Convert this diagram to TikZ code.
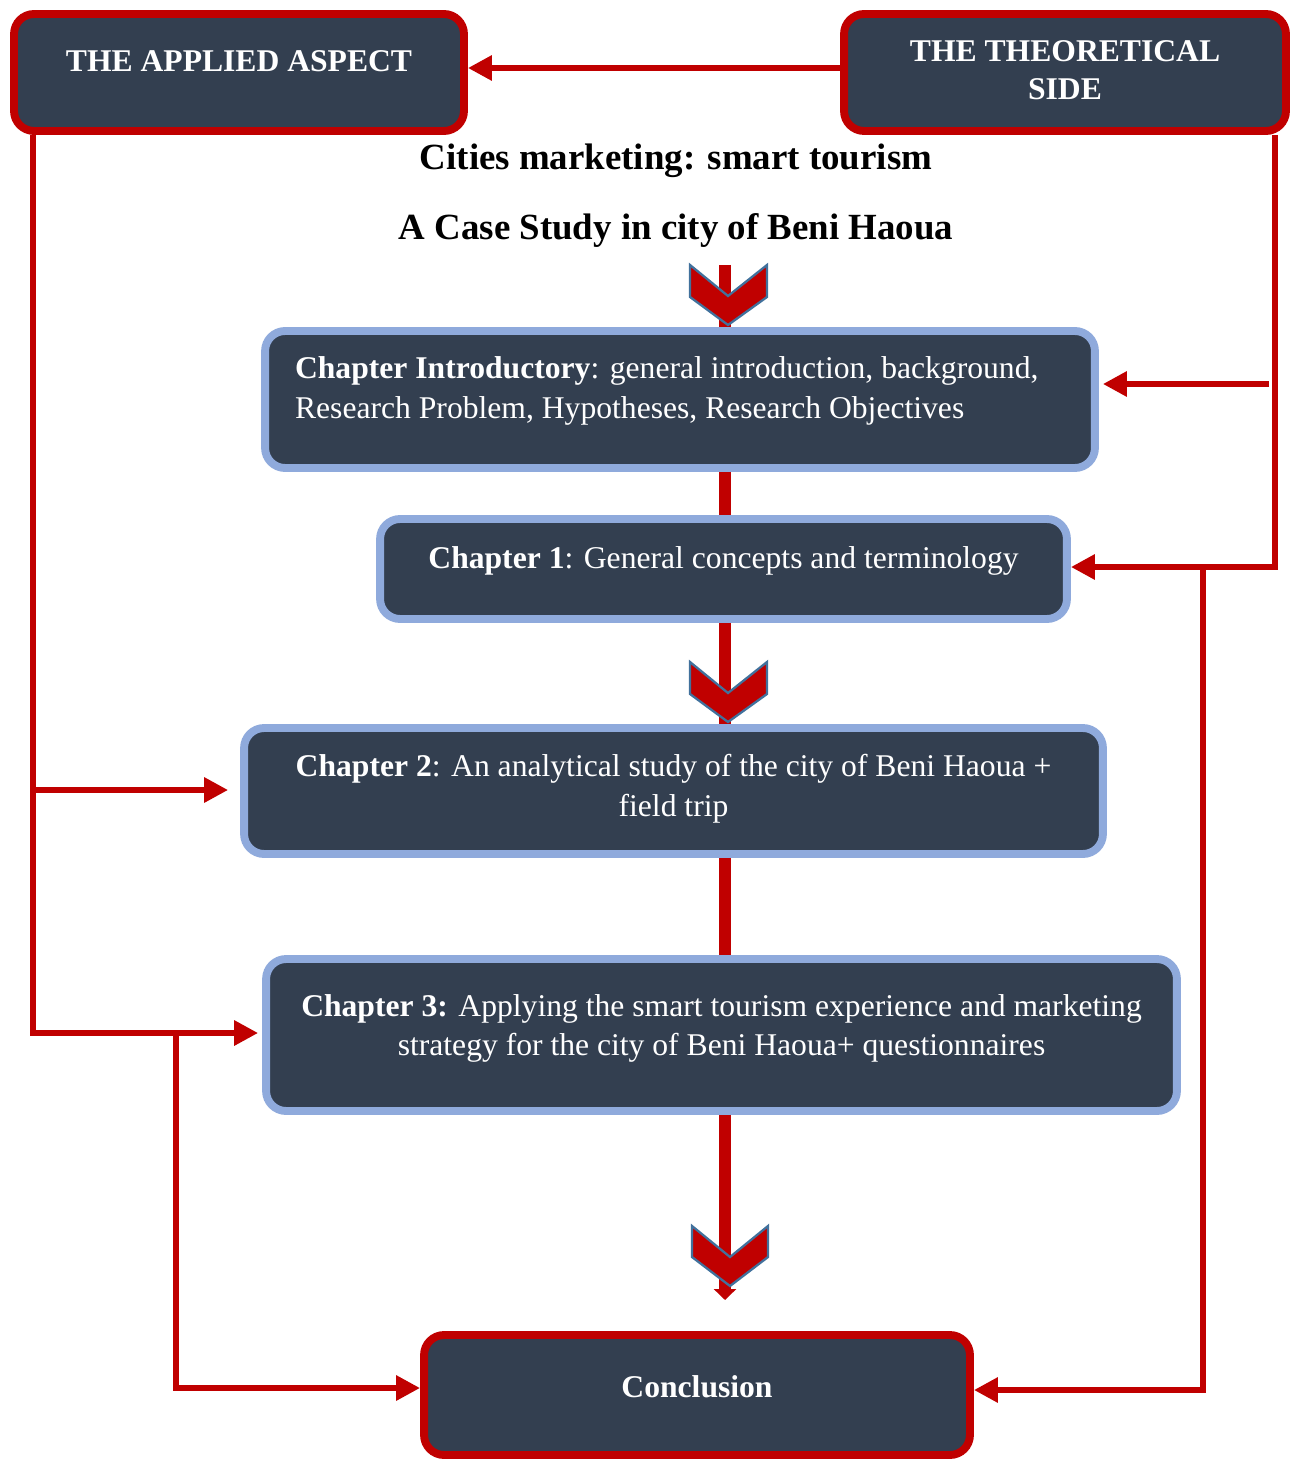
\documentclass[tikz,border=0pt]{standalone}
\usepackage{fontspec}
\setmainfont{Liberation Serif}
\usetikzlibrary{arrows.meta}
\definecolor{boxfill}{HTML}{333F50}
\definecolor{myred}{HTML}{C00000}
\definecolor{myblue}{HTML}{8FAADC}
\definecolor{chevedge}{HTML}{41719C}
\tikzset{
  box/.style={rectangle, rounded corners=0.4cm, fill=boxfill, line width=4.5pt,
    text=white, align=center, font=\fontsize{18}{22.7}\selectfont, text depth=0.45cm, inner sep=0pt},
  redbox/.style={box, draw=myred},
  bluebox/.style={box, draw=myblue},
  boldcaps/.style={font=\fontsize{18}{22}\selectfont\bfseries},
  conn/.style={draw=myred, line width=3.4pt, -{Triangle[length=0.48cm,width=0.48cm]}},
  spine/.style={draw=myred, line width=6.8pt},
  chev/.style={fill=myred, draw=chevedge, line width=1.3pt, line join=miter},
  titletxt/.style={font=\fontsize{21}{25}\selectfont\bfseries, text=black}
}
\begin{document}
\begin{tikzpicture}[x=0.02cm, y=-0.02cm]
\useasboundingbox (0,0) rectangle (1294,1459);

% boxes
\node[redbox, boldcaps, minimum width=9.0cm, minimum height=2.34cm] (applied) at (239,72.5) {THE APPLIED ASPECT};
\node[redbox, boldcaps, minimum width=8.84cm, minimum height=2.34cm, text depth=0.1cm] (theo) at (1065,72.5) {THE THEORETICAL\\SIDE};

\node[titletxt] (title1) at (676,161) {Cities marketing: smart tourism};
\node[titletxt] (title2) at (676,230) {A Case Study in city of Beni Haoua};

\node[bluebox, minimum width=16.6cm, minimum height=2.74cm, text depth=0pt, text height=0pt] (intro) at (680,399.5)
  {\makebox[15.4cm][l]{\raisebox{0.02cm}[0pt][0pt]{\begin{tabular}{@{}l@{}}\textbf{Chapter Introductory}: general introduction, background,\\Research Problem, Hypotheses, Research Objectives\end{tabular}}}};
\node[bluebox, minimum width=13.74cm, minimum height=2.0cm] (ch1) at (723.5,569)
  {\textbf{Chapter 1}: General concepts and terminology};
\node[bluebox, minimum width=17.18cm, minimum height=2.52cm, text depth=0.21cm] (ch2) at (673.5,791)
  {\textbf{Chapter 2}: An analytical study of the city of Beni Haoua +\\field trip};
\node[bluebox, minimum width=18.22cm, minimum height=3.04cm, text depth=0.4cm] (ch3) at (721.5,1035)
  {\textbf{Chapter 3:} Applying the smart tourism experience and marketing\\strategy for the city of Beni Haoua+ questionnaires};
\node[redbox, boldcaps, minimum width=10.92cm, minimum height=2.4cm, text depth=0.33cm] (concl) at (697,1395) {Conclusion};

% spine
\coordinate (s0) at (725,265);
\coordinate (s5) at (725,1300);
\draw[spine] (s0) -- (s0 |- intro.north);
\draw[spine] (intro.south -| s0) -- (ch1.north -| s0);
\draw[spine] (ch1.south -| s0) -- (ch2.north -| s0);
\draw[spine] (ch2.south -| s0) -- (ch3.north -| s0);
\draw[spine, -{Triangle[length=0.22cm,width=0.44cm]}] (ch3.south -| s0) -- (s5);

% chevrons
\draw[chev] (690,265) -- (728,296) -- (767,265) -- (767,297) -- (728,325) -- (690,297) -- cycle;
\draw[chev] (690,662) -- (728,693) -- (767,662) -- (767,694) -- (728,722) -- (690,694) -- cycle;
\draw[chev] (692,1226) -- (730,1257) -- (768,1226) -- (768,1257) -- (730,1286) -- (692,1257) -- cycle;

% top connector
\draw[conn] (theo.west |- 0,68) -- (applied.east |- 0,68);

% right side
\coordinate (r1) at (1275,567);
\coordinate (ri) at (1269,384);
\coordinate (r2) at (1203,567);
\draw[conn] (theo.south -| r1) |- (ch1.east |- r1);
\draw[conn, shorten >=0.08cm] (ri) -- (ri -| intro.east);
\draw[conn] (r2) |- (concl.east |- 0,1390);

% left side
\coordinate (l1) at (33,1033);
\coordinate (l2) at (33,790);
\coordinate (l3) at (176,1033);
\draw[conn, shorten >=0.08cm] (applied.south -| l1) |- (ch3.west |- l1);
\draw[conn, shorten >=0.24cm] (l2) -- (l2 -| ch2.west);
\draw[conn] (l3) |- (concl.west |- 0,1388);
\end{tikzpicture}
\end{document}
